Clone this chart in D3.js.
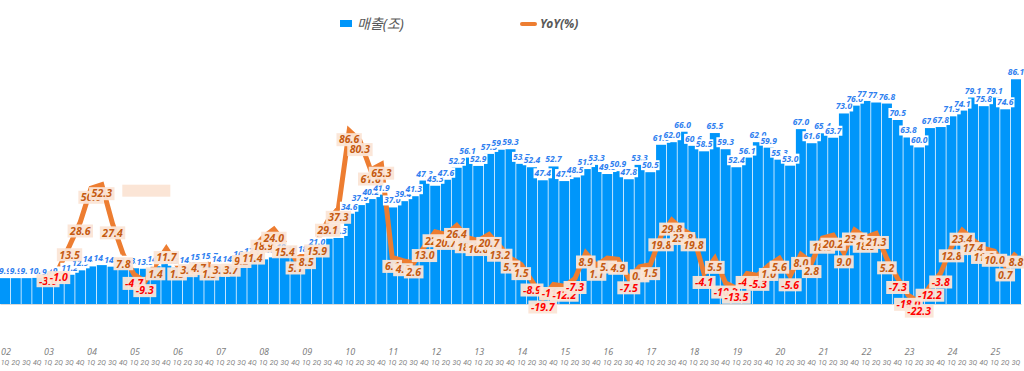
<!DOCTYPE html>
<html>
<head>
<meta charset="utf-8">
<script src="https://cdn.jsdelivr.net/npm/d3@7"></script>
<style>
  body { margin: 0; background: #fff; }
  svg { display: block; font-family: "Noto Sans", "Noto Sans CJK KR", sans-serif; }
</style>
</head>
<body>
<div id="chart"></div>
<script>
// quarterly revenue (trillion KRW) and YoY growth (%)
var years = ["02","03","04","05","06","07","08","09","10","11","12","13",
             "14","15","16","17","18","19","20","21","22","23","24","25"];
var quarterNames = ["1Q","2Q","3Q","4Q"];

var revenue = [
  9.9, 9.9, 9.9, 10.0,
  9.6, 9.8, 11.2, 12.9,
  14.4, 14.9, 14.3, 13.9,
  13.7, 13.5, 14.5, 15.5,
  13.9, 14.0, 15.2, 15.7,
  14.4, 14.5, 16.6, 17.5,
  17.1, 18.0, 19.2, 18.4,
  18.5, 21.0, 25.0, 25.3,
  34.6, 37.9, 40.2, 41.9,
  37.0, 39.4, 41.3, 47.3,
  45.3, 47.6, 52.2, 56.1,
  52.9, 57.5, 59.1, 59.3,
  53.7, 52.4, 47.4, 52.7,
  47.1, 48.5, 51.7, 53.3,
  49.8, 50.9, 47.8, 53.3,
  50.5, 61.0, 62.0, 66.0,
  60.6, 58.5, 65.5, 59.3,
  52.4, 56.1, 62.0, 59.9,
  55.3, 53.0, 67.0, 61.6,
  65.4, 63.7, 73.0, 76.0,
  77.8, 77.2, 76.8, 70.5,
  63.8, 60.0, 67.4, 67.8,
  71.9, 74.1, 79.1, 75.8,
  79.1, 74.6, 86.1
];

var yoy = [
  null, null, null, null,
  -3.0, -1.0, 13.5, 28.6,
  50.0, 52.3, 27.4, 7.8,
  -4.7, -9.3, 1.4, 11.7,
  1.3, 3.4, 4.7, 1.3,
  3.6, 3.7, 9.2, 11.4,
  18.9, 24.0, 15.4, 5.1,
  8.5, 15.9, 29.1, 37.3,
  86.6, 80.3, 61.6, 65.3,
  6.1, 4.0, 2.6, 13.0,
  22.4, 20.7, 26.4, 18.6,
  16.8, 20.7, 13.2, 5.7,
  1.5, -8.9, -19.7, -11.1,
  -12.2, -7.3, 8.9, 1.1,
  5.7, 4.9, -7.5, 0.1,
  1.5, 19.8, 29.8, 23.8,
  19.8, -4.1, 5.5, -10.2,
  -13.5, -4.1, -5.3, 1.0,
  5.6, -5.6, 8.0, 2.8,
  18.3, 20.2, 9.0, 23.5,
  18.9, 21.3, 5.2, -7.3,
  -18.0, -22.3, -12.2, -3.8,
  12.8, 23.4, 17.4, 11.8,
  10.0, 0.7, 8.8
];

var width = 1024, height = 371;

var svg = d3.select("#chart")
  .append("svg")
    .attr("width", width)
    .attr("height", height);

var idx = d3.range(revenue.length);

var x = d3.scaleBand()
  .domain(idx)
  .range([0, 1021])
  .paddingInner(0.07);

// left axis for bars, right (hidden) axis for YoY
var y = d3.scaleLinear().domain([0, 100]).range([304, 43]);
var y2 = d3.scaleLinear().domain([-23.5, 142.3]).range([304, 43]);

var cx = function(i){ return x(i) + x.bandwidth()/2; };

// bars
svg.append("g")
  .selectAll("rect")
  .data(idx)
  .join("rect")
    .attr("x", function(i){ return x(i); })
    .attr("y", function(i){ return y(revenue[i]); })
    .attr("width", x.bandwidth())
    .attr("height", function(i){ return y(0) - y(revenue[i]); })
    .style("fill", "#0096fa");

// x axis: quarters
var xAxis = d3.axisBottom(x)
  .tickSize(0)
  .tickPadding(56)
  .tickFormat(function(i){ return quarterNames[i % 4]; });

var ax = svg.append("g")
  .attr("transform", "translate(0," + y(0) + ")")
  .call(xAxis);
ax.select(".domain").style("stroke", "#d9d9d9");
ax.selectAll("text")
  .style("font-family", "Roboto, sans-serif")
  .style("font-size", "7px")
  .style("font-style", "italic")
  .style("fill", "#7f7f7f");

// x axis: years above the first quarter
svg.append("g")
  .selectAll("text")
  .data(years)
  .join("text")
    .attr("x", function(d, k){ return cx(k * 4) + 1; })
    .attr("y", 355)
    .attr("text-anchor", "middle")
    .style("font-size", "9px")
    .style("font-style", "italic")
    .style("fill", "#7f7f7f")
    .text(function(d){ return d; });

// YoY line
var yoyIdx = idx.filter(function(i){ return yoy[i] !== null; });
var line = d3.line()
  .x(function(i){ return cx(i); })
  .y(function(i){ return y2(yoy[i]); });

svg.append("path")
  .datum(yoyIdx)
  .attr("d", line)
  .style("fill", "none")
  .style("stroke", "#ed7d31")
  .style("stroke-width", 5)
  .style("stroke-linejoin", "miter");

// stray empty label box
svg.append("rect")
  .attr("x", cx(11) - 1)
  .attr("y", y2(52.3))
  .attr("width", 48)
  .attr("height", 12)
  .style("fill", "#fbe5d6");

// revenue labels
var revLab = svg.append("g")
  .selectAll("g")
  .data(idx)
  .join("g")
    .attr("transform", function(i){ return "translate(" + cx(i) + "," + (y(revenue[i]) - 7) + ")"; });

revLab.append("rect").style("fill", "#fff");
revLab.append("text")
  .attr("text-anchor", "middle")
  .attr("dy", "0.35em")
  .style("font-size", "8.5px")
  .style("font-weight", "bold")
  .style("font-style", "italic")
  .style("fill", "#2f7ff0")
  .text(function(i){ return revenue[i].toFixed(1); });

revLab.each(function(){
  var g = d3.select(this);
  var w = g.select("text").node().getComputedTextLength() + 2;
  g.select("rect").attr("x", -w/2).attr("y", -5).attr("width", w).attr("height", 10);
});

// YoY labels (below the point)
var yoyLab = svg.append("g")
  .selectAll("g")
  .data(yoyIdx)
  .join("g")
    .attr("transform", function(i){ return "translate(" + cx(i) + "," + (y2(yoy[i]) + 9) + ")"; });

yoyLab.append("rect").style("fill", "#fbe5d6").style("opacity", 0.95);
yoyLab.append("text")
  .attr("text-anchor", "middle")
  .attr("dy", "0.36em")
  .style("font-size", "10.5px")
  .style("font-weight", "bold")
  .style("font-style", "italic")
  .style("fill", function(i){ return yoy[i] < 0 ? "#ff0000" : "#c55a11"; })
  .text(function(i){ return yoy[i].toFixed(1); });

yoyLab.each(function(){
  var g = d3.select(this);
  var w = g.select("text").node().getComputedTextLength() + 5;
  g.select("rect").attr("x", -w/2).attr("y", -6.5).attr("width", w).attr("height", 13);
});

// legend
var legend = svg.append("g");
legend.append("rect")
  .attr("x", 340).attr("y", 20)
  .attr("width", 12).attr("height", 7)
  .style("fill", "#0096fa");
legend.append("text")
  .attr("x", 357).attr("y", 29)
  .style("font-size", "14px")
  .style("font-style", "italic")
  .style("fill", "#595959")
  .text("매출(조)");
legend.append("line")
  .attr("x1", 522).attr("x2", 535)
  .attr("y1", 24).attr("y2", 24)
  .style("stroke", "#ed7d31")
  .style("stroke-width", 4)
  .style("stroke-linecap", "round");
legend.append("text")
  .attr("x", 540).attr("y", 28)
  .style("font-size", "12px")
  .style("font-weight", "bold")
  .style("font-style", "italic")
  .style("fill", "#595959")
  .text("YoY(%)");
</script>
</body>
</html>
